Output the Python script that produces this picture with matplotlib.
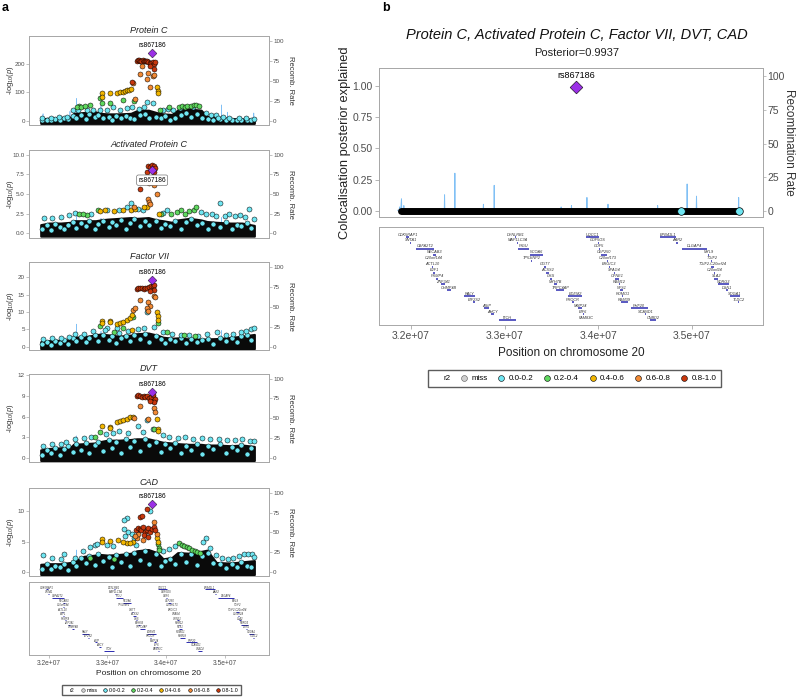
import numpy as np
import matplotlib.pyplot as plt
from matplotlib.lines import Line2D
from matplotlib.ticker import FuncFormatter

plt.rcParams['font.family'] = ['Liberation Sans', 'DejaVu Sans']
plt.rcParams['mathtext.fontset'] = 'custom'
plt.rcParams['mathtext.rm'] = 'Liberation Sans'
plt.rcParams['mathtext.it'] = 'Liberation Sans:italic'

# r2 classes: 0 miss, 1 0.0-0.2, 2 0.2-0.4, 3 0.4-0.6, 4 0.6-0.8, 5 0.8-1.0
R2_COLORS = ['#CFCFCF', '#6FE6F2', '#5FD85F', '#F2B600', '#F28A35', '#C8370D']
R2_LABELS = ['miss', '0.0-0.2', '0.2-0.4', '0.4-0.6', '0.6-0.8', '0.8-1.0']
LEAD_COLOR = '#9B30E6'
RECOMB_COLOR = '#80C0F5'
FRAME_GREY = '#A8A8A8'
TEXT_GREY = '#4D4D4D'

lead_snp = 'rs867186'
lead_pos = 33.764          # Mb
coloc_posterior = 0.9937

# recombination rate (cM/Mb), shared by every panel
recomb_pos = [31.86, 31.875, 31.88, 31.885, 31.893, 31.897, 31.90, 31.903, 31.92, 31.925,
              31.93, 31.95, 32.20, 32.357, 32.36, 32.363, 32.467, 32.47, 32.473, 32.772,
              32.775, 32.778, 32.887, 32.89, 32.893, 33.20, 33.602, 33.605, 33.608, 33.712,
              33.715, 33.718, 33.877, 33.88, 33.883, 34.102, 34.105, 34.108, 34.632, 34.635,
              34.638, 34.947, 34.95, 34.953, 35.047, 35.05, 35.053, 35.497, 35.50, 35.503,
              35.53]
recomb_rate = [0.5, 0.5, 3, 1, 1, 6, 9, 1, 1, 4,
               1, 0.5, 0.3, 0.5, 12, 0.5, 0.5, 28, 0.5, 0.3,
               5, 0.3, 0.5, 19, 0.5, 0.2, 0.5, 3, 0.5, 0.5,
               4, 0.5, 0.5, 10, 0.5, 0.5, 5, 0.5, 0.5, 4,
               0.5, 0.5, 20, 0.5, 0.5, 11, 0.5, 0.5, 10, 0.5,
               0.5]

# top of the densely overplotted low-signal SNP mass, per trait
band_pos = [31.86, 32.0, 32.2, 32.37, 32.42, 32.6, 32.8, 32.88, 33.0, 33.2, 33.4, 33.5,
            33.7, 33.85, 33.95, 34.1, 34.2, 34.4, 34.6, 34.7, 34.86, 35.1, 35.3, 35.51]
pc_band = [7, 10, 12, 13, 26, 30, 32, 27, 25, 25, 27, 36, 38, 29, 25, 23, 38, 42, 38, 16, 13, 9, 7, 5]
apc_band = [1.1, 1.3, 1.3, 1.4, 1.6, 1.6, 1.6, 1.7, 1.8, 1.9, 2.0, 1.9, 2.0, 1.7, 1.6, 1.4, 1.7, 1.9, 1.7, 1.5, 1.4, 1.3, 1.3, 1.0]
f7_band = [1.4, 1.7, 1.8, 2.0, 2.7, 2.8, 3.4, 3.6, 3.4, 3.0, 3.3, 3.7, 3.9, 3.3, 2.7, 2.4, 2.5, 2.2, 2.1, 2.2, 2.3, 2.6, 3.0, 3.5]
dvt_band = [1.2, 1.4, 1.5, 1.6, 2.0, 2.1, 2.2, 2.4, 2.6, 2.6, 2.7, 2.8, 2.8, 2.5, 2.3, 2.2, 2.1, 2.0, 2.0, 1.9, 1.9, 1.8, 1.9, 1.7]
cad_band = [1.3, 1.4, 1.4, 1.6, 1.7, 2.6, 2.8, 2.9, 2.8, 2.9, 3.1, 3.5, 3.7, 3.2, 2.2, 2.4, 3.2, 3.1, 3.4, 3.6, 1.6, 1.5, 1.7, 1.9]

# SNPs buried inside that mass (shared positions, per-trait -log10 p)
low_pos = [31.88, 31.96, 32.04, 32.11, 32.19, 32.26, 32.33, 32.41, 32.47, 32.55, 32.63,
           32.69, 32.78, 32.84, 32.93, 33.02, 33.08, 33.14, 33.24, 33.31, 33.38, 33.46,
           33.55, 33.64, 33.71, 33.83, 33.91, 33.99, 34.07, 34.16, 34.26, 34.34, 34.43,
           34.53, 34.61, 34.72, 34.81, 34.93, 35.03, 35.12, 35.21, 35.29, 35.38, 35.45]
pc_low = [3, 5, 2, 7, 4, 9, 6, 18, 12, 22, 8, 25, 15, 20, 10, 14, 5, 18, 9, 16, 12, 6,
          20, 26, 11, 14, 9, 17, 5, 12, 20, 28, 15, 25, 10, 8, 4, 6, 3, 5, 2, 4, 3, 2]
apc_low = [0.6, 1.0, 0.4, 1.2, 0.8, 0.5, 1.1, 1.4, 0.7, 1.3, 0.9, 1.5, 0.6, 1.2, 1.6, 0.8,
           1.4, 1.0, 1.7, 0.5, 1.3, 1.8, 0.9, 1.5, 1.1, 1.6, 0.7, 1.2, 0.9, 1.5, 0.6, 1.4,
           1.8, 1.0, 1.3, 0.6, 1.2, 0.8, 1.4, 0.5, 1.1, 0.9, 1.3, 0.7]
f7_low = [0.8, 1.4, 0.5, 1.6, 1.0, 1.8, 0.7, 2.4, 1.5, 2.8, 1.2, 2.5, 3.2, 1.6, 3.4, 2.0,
          2.9, 1.1, 2.6, 3.0, 1.7, 3.3, 2.2, 3.6, 1.4, 3.0, 2.3, 1.0, 2.2, 1.5, 2.4, 0.9,
          2.1, 1.3, 1.9, 2.3, 0.8, 2.4, 1.5, 2.6, 1.2, 2.9, 3.3, 2.0]
dvt_low = [0.5, 1.2, 0.8, 1.5, 0.4, 1.3, 1.7, 0.9, 2.0, 1.2, 2.2, 0.7, 1.9, 2.4, 1.1, 2.6,
           1.5, 2.3, 0.8, 2.7, 1.6, 2.5, 1.0, 2.8, 1.9, 2.4, 0.9, 2.1, 1.4, 2.2, 0.7, 1.8,
           1.2, 2.0, 0.6, 1.7, 1.3, 2.0, 0.8, 1.6, 1.2, 1.9, 0.6, 1.5]
cad_low = [0.6, 1.3, 0.5, 1.1, 0.9, 1.4, 0.4, 1.6, 1.0, 2.4, 1.5, 2.7, 1.2, 2.9, 1.8, 2.5,
           0.9, 2.8, 1.6, 3.0, 1.1, 3.2, 2.0, 3.4, 1.4, 2.9, 1.0, 1.8, 2.2, 1.3, 2.9, 1.7,
           3.0, 1.2, 2.6, 3.1, 1.5, 1.3, 0.7, 1.4, 0.9, 1.6, 1.1, 0.8]

# Protein C
pc_pos = [33.50, 33.52, 33.54, 33.56, 33.58, 33.60, 33.62, 33.64, 33.66, 33.68, 33.70, 33.72, 33.74,
          33.78, 33.80, 33.81, 33.79, 33.73, 33.42,
          33.585, 33.556, 33.70, 33.68, 33.78, 33.80, 33.72, 33.44, 33.47,
          32.90, 32.91, 33.04, 33.16, 33.22, 33.26, 33.30, 33.33, 33.36, 33.40, 33.84, 33.87, 33.86,
          32.87, 32.91, 33.05, 33.27, 33.46, 33.90, 32.51, 32.48, 32.55, 32.71, 32.62, 34.05,
          34.22, 34.28, 34.32, 34.36, 34.42, 34.48, 34.52, 34.56,
          33.67, 33.77, 32.42, 32.50, 32.65, 32.76, 32.88, 32.99, 33.10, 33.22, 33.33, 33.42, 33.54,
          33.63, 33.95, 34.04, 34.12, 34.24, 34.46, 34.69, 34.77, 34.86, 34.89, 34.97, 35.08, 35.25,
          35.37, 35.51, 31.89, 32.03, 32.17, 32.31]
pc_logp = [212, 214, 213, 211, 212, 213, 211, 210, 212, 209, 207, 205, 203,
           206, 201, 208, 182, 194, 136,
           193, 166, 167, 146, 158, 162, 120, 134, 76,
           97, 85, 97, 99, 100, 102, 104, 107, 110, 112, 120, 106, 98,
           82, 62, 62, 74, 70, 39, 53, 48, 50, 56, 52, 48,
           49, 51, 50, 52, 53, 55, 56, 54,
           68, 64, 40, 38, 40, 38, 38, 40, 48, 39, 44, 48, 41,
           48, 39, 41, 39, 44, 48, 27, 21, 21, 10, 13, 12, 10,
           10, 7, 9, 10, 13, 13]
pc_r2 = [5, 5, 5, 5, 5, 5, 5, 5, 5, 5, 5, 5, 5,
         5, 5, 5, 5, 5, 5,
         4, 4, 4, 4, 4, 4, 4, 4, 4,
         3, 3, 3, 3, 3, 3, 3, 3, 3, 3, 3, 3, 3,
         2, 2, 2, 2, 2, 2, 2, 2, 2, 2, 2, 2,
         2, 2, 2, 2, 2, 2, 2, 2,
         1, 1, 1, 1, 1, 1, 1, 1, 1, 1, 1, 1, 1,
         1, 1, 1, 1, 1, 1, 1, 1, 1, 1, 1, 1, 1,
         1, 1, 1, 1, 1, 1]
pc_lead = 237

# Activated Protein C
apc_pos = [33.70, 33.73, 33.76, 33.79, 33.81, 33.67, 33.80, 33.56,
           33.71, 33.79, 33.84, 33.70, 33.71, 33.72, 33.46,
           33.67, 33.62, 33.41, 33.47, 33.27, 33.12, 32.96, 32.88, 33.88,
           32.51, 32.65, 32.84, 32.58, 34.09, 34.18, 34.26, 34.33, 34.40, 34.48, 34.52, 33.92,
           33.41, 34.92, 35.42, 31.92, 32.05, 32.20, 32.35, 32.45, 32.72, 33.00, 33.20, 33.33,
           33.52, 33.60, 33.95, 34.02, 34.60, 34.68, 34.78, 34.85, 35.00, 35.08, 35.18, 35.26,
           35.35, 35.50]
apc_logp = [8.6, 8.4, 8.7, 8.5, 8.3, 7.8, 7.8, 5.6,
            6.4, 6.1, 5.0, 4.3, 4.0, 3.7, 3.4,
            3.4, 3.3, 3.0, 3.1, 2.9, 2.8, 3.0, 2.8, 2.5,
            2.5, 2.3, 2.9, 2.4, 2.5, 2.7, 2.9, 2.5, 2.8, 3.0, 3.3, 2.4,
            3.8, 3.9, 3.1, 2.0, 1.9, 2.1, 2.3, 2.6, 2.5, 3.0, 2.9, 3.3,
            3.1, 2.9, 2.6, 2.9, 2.7, 2.4, 2.5, 2.2, 2.2, 2.4, 2.2, 2.3,
            2.1, 1.8]
apc_r2 = [5, 5, 5, 5, 5, 5, 5, 5,
          4, 4, 4, 4, 4, 4, 4,
          3, 3, 3, 3, 3, 3, 3, 3, 3,
          2, 2, 2, 2, 2, 2, 2, 2, 2, 2, 2, 2,
          1, 1, 1, 1, 1, 1, 1, 1, 1, 1, 1, 1,
          1, 1, 1, 1, 1, 1, 1, 1, 1, 1, 1, 1,
          1, 1]
apc_lead = 8.0

# Factor VII
f7_pos = [33.50, 33.53, 33.56, 33.59, 33.62, 33.65, 33.68, 33.71, 33.74, 33.77, 33.80, 33.79, 33.73,
          33.56, 33.70, 33.72, 33.79, 33.81, 33.67, 33.70, 33.44, 33.47,
          33.84, 33.87, 33.86, 33.16, 33.22, 33.27, 33.33, 33.39, 33.42, 32.91, 32.90, 33.05, 33.04, 33.42,
          33.44, 33.27, 33.11, 33.87, 34.01, 32.87, 34.30, 34.50,
          33.68, 33.17, 33.00, 33.20, 31.90, 32.05, 32.20, 32.35, 32.45, 32.60, 32.75, 32.95, 33.35,
          33.52, 33.62, 33.80, 33.95, 34.10, 34.25, 34.40, 34.55, 34.70, 34.88, 35.02, 35.15, 35.28,
          35.36, 35.45, 35.50]
f7_logp = [16.6, 16.9, 17.0, 16.8, 16.5, 16.8, 17.0, 17.2, 17.5, 17.4, 17.8, 16.3, 16.0,
           13.3, 12.8, 11.6, 14.5, 14.2, 11.1, 10.3, 10.6, 11.0,
           9.9, 8.7, 7.7, 6.6, 6.8, 7.2, 7.7, 8.3, 9.2, 7.5, 6.8, 7.5, 7.0, 4.8,
           8.5, 5.3, 4.1, 6.8, 4.3, 5.8, 3.2, 3.0,
           9.9, 5.3, 5.3, 3.9, 2.2, 2.5, 2.6, 2.8, 3.5, 3.6, 4.5, 4.7, 4.5,
           5.2, 5.4, 5.5, 4.2, 3.5, 3.3, 3.4, 3.1, 3.5, 4.1, 3.3, 3.6, 4.2,
           4.6, 5.0, 5.4]
f7_r2 = [5, 5, 5, 5, 5, 5, 5, 5, 5, 5, 5, 5, 5,
         4, 4, 4, 4, 4, 4, 4, 4, 4,
         3, 3, 3, 3, 3, 3, 3, 3, 3, 3, 3, 3, 3, 3,
         2, 2, 2, 2, 2, 2, 2, 2,
         1, 1, 1, 1, 1, 1, 1, 1, 1, 1, 1, 1, 1,
         1, 1, 1, 1, 1, 1, 1, 1, 1, 1, 1, 1, 1,
         1, 1, 1]
f7_lead = 19.1

# DVT
dvt_pos = [33.50, 33.53, 33.56, 33.59, 33.62, 33.65, 33.68, 33.71, 33.74, 33.78, 33.81, 33.80, 33.73,
           33.78, 33.79,
           33.56, 33.80, 33.81, 33.70, 33.45,
           33.84, 33.87, 33.86, 33.16, 33.22, 33.27, 33.33, 33.39, 33.43, 32.91, 33.05, 33.04,
           32.87, 32.79, 33.80,
           33.52, 33.67, 33.77, 33.20, 31.90, 32.05, 32.20, 32.30, 32.45, 32.60, 32.72, 32.98, 33.10,
           33.35, 33.60, 33.95, 34.05, 34.20, 34.33, 34.47, 34.62, 34.76, 34.90, 35.05, 35.18, 35.30,
           35.43, 35.50]
dvt_logp = [9.0, 9.1, 9.0, 8.9, 9.0, 8.8, 9.0, 8.7, 8.9, 9.1, 8.5, 8.1, 8.3,
            8.8, 8.2,
            7.5, 7.3, 6.6, 5.6, 5.8,
            5.6, 4.2, 3.9, 5.2, 5.3, 5.5, 5.7, 6.0, 5.9, 4.6, 4.5, 4.4,
            3.8, 3.1, 4.2,
            4.7, 5.5, 4.2, 3.9, 1.8, 2.0, 2.1, 2.4, 2.8, 2.9, 3.0, 3.5, 3.6,
            3.6, 3.8, 3.3, 3.1, 2.9, 3.1, 2.8, 2.9, 2.8, 2.8, 2.6, 2.6, 2.8,
            2.5, 2.5]
dvt_r2 = [5, 5, 5, 5, 5, 5, 5, 5, 5, 5, 5, 5, 5,
          2, 2,
          4, 4, 4, 4, 4,
          3, 3, 3, 3, 3, 3, 3, 3, 3, 3, 3, 3,
          2, 2, 2,
          1, 1, 1, 1, 1, 1, 1, 1, 1, 1, 1, 1, 1,
          1, 1, 1, 1, 1, 1, 1, 1, 1, 1, 1, 1, 1,
          1, 1]
dvt_lead = 9.5

# CAD
cad_pos = [33.67, 33.56, 33.59, 33.48, 33.52, 33.55, 33.58, 33.61, 33.64, 33.67, 33.70, 33.73, 33.76,
           33.79, 33.82, 33.62, 33.70,
           33.79, 33.50, 33.53, 33.84, 33.47, 33.60,
           32.90, 32.91, 33.05, 33.18, 33.33, 33.43, 33.84, 33.87, 33.39, 33.27,
           33.72, 33.33, 33.29, 33.28, 33.35, 33.42, 33.45, 33.30, 33.48, 32.71, 32.79, 32.82, 34.69,
           34.64, 31.90, 32.05, 32.20, 32.25, 32.45, 32.58, 32.99, 33.10, 33.95, 34.05, 34.15, 34.75,
           34.85, 34.95, 35.06, 35.15, 35.25, 35.33, 35.40, 35.47, 35.51,
           33.87, 33.875, 33.88, 34.22, 34.27, 34.31, 34.36, 34.40, 34.44, 34.49, 34.53, 34.58,
           32.71, 33.11]
cad_logp = [10.3, 9.0, 9.1, 6.9, 7.2, 7.0, 6.8, 7.3, 6.6, 6.9, 7.2, 6.5, 7.0,
            7.4, 6.8, 6.0, 5.8,
            8.1, 5.5, 6.2, 6.2, 5.9, 5.3,
            5.4, 4.9, 5.1, 5.2, 4.7, 5.0, 5.5, 5.0, 4.8, 4.9,
            9.9, 8.8, 8.5, 7.0, 6.6, 6.3, 5.6, 5.9, 4.5, 4.1, 4.4, 4.6, 5.5,
            4.9, 2.8, 2.3, 2.2, 2.9, 2.4, 3.4, 4.5, 4.3, 3.4, 3.8, 4.3, 4.0,
            2.8, 2.3, 2.2, 2.3, 2.7, 3.0, 2.9, 3.0, 2.5,
            4.6, 4.0, 3.6, 4.7, 4.5, 4.3, 4.1, 4.0, 3.7, 3.5, 3.3, 3.1,
            2.4, 2.1]
cad_r2 = [5, 5, 5, 5, 5, 5, 5, 5, 5, 5, 5, 5, 5,
          5, 5, 5, 5,
          4, 4, 4, 4, 4, 4,
          3, 3, 3, 3, 3, 3, 3, 3, 3, 3,
          1, 1, 1, 1, 1, 1, 1, 1, 1, 1, 1, 1, 1,
          1, 1, 1, 1, 1, 1, 1, 1, 1, 1, 1, 1, 1,
          1, 1, 1, 1, 1, 1, 1, 1, 1,
          2, 2, 2, 2, 2, 2, 2, 2, 2, 2, 2, 2,
          2, 2]
cad_lead = 11.1

# colocalisation: SNPs whose markers still show at the end of the overplotted row
coloc_row_span = (31.89, 35.50)
coloc_visible_pos = [34.88, 35.50]

# genes: name, start, end (Mb), track row
gene_names = ['CDK5RAP1', 'SNTA1', 'CBFA2T2', 'NECAB3', 'C20orf144', 'ACTL10', 'E2F1', 'PXMP4',
              'ZNF341', 'CHMP4B', 'RALY', 'EIF2S2', 'ASIP', 'AHCY', 'ITCH',
              'DYNLRB1', 'MAP1LC3A', 'PIGU', 'NCOA6', 'TP53INP2', 'GGT7', 'ACSS2', 'GSS',
              'MYH7B', 'TRPC4AP', 'EDEM2', 'PROCR', 'MMP24', 'EIF6', 'FAM83C',
              'UQCC1', 'GDF5OS', 'GDF5', 'CEP250', 'C20orf173', 'ERGIC3', 'SPAG4', 'CPNE1',
              'RBM12', 'NFS1', 'ROMO1', 'RBM39', 'PHF20', 'SCAND1', 'CNBD2',
              'EPB41L1', 'AAR2', 'DLGAP4', 'MYL9', 'TGIF2', 'TGIF2-C20orf24', 'C20orf24',
              'SLA2', 'NDRG3', 'DSN1', 'SOGA1', 'TLDC2']
gene_start = [31.95, 31.99, 32.05, 32.24, 32.245, 32.225, 32.24, 32.27,
              32.32, 32.39, 32.57, 32.66, 32.78, 32.86, 32.94,
              33.11, 33.135, 33.14, 33.27, 33.28, 33.425, 33.44, 33.49,
              33.53, 33.55, 33.68, 33.725, 33.79, 33.835, 33.865,
              33.87, 33.995, 34.005, 34.03, 34.095, 34.115, 34.165, 34.18,
              34.225, 34.23, 34.255, 34.24, 34.35, 34.505, 34.55,
              34.66, 34.83, 34.89, 35.175, 35.21, 35.20, 35.235,
              35.24, 35.28, 35.37, 35.41, 35.495]
gene_end = [31.98, 32.005, 32.25, 32.27, 32.25, 32.235, 32.26, 32.29,
            32.36, 32.43, 32.68, 32.69, 32.83, 32.89, 33.12,
            33.125, 33.145, 33.26, 33.41, 33.29, 33.44, 33.48, 33.51,
            33.56, 33.64, 33.83, 33.74, 33.83, 33.845, 33.875,
            34.01, 34.005, 34.015, 34.09, 34.105, 34.125, 34.175, 34.22,
            34.235, 34.27, 34.265, 34.32, 34.53, 34.515, 34.62,
            34.83, 34.85, 35.16, 35.185, 35.22, 35.24, 35.245,
            35.28, 35.40, 35.39, 35.51, 35.505]
gene_row = [1, 2, 3, 4, 5, 6, 7, 8, 9, 10, 11, 12, 13, 14, 15,
            1, 2, 3, 4, 5, 6, 7, 8, 9, 10, 11, 12, 13, 14, 15,
            1, 2, 3, 4, 5, 6, 7, 8, 9, 10, 11, 12, 13, 14, 15,
            1, 2, 3, 4, 5, 6, 7, 8, 9, 10, 11, 12]

XLIM = (31.66e6, 35.76e6)
XTICKS = [32e6, 33e6, 34e6, 35e6]
sci_fmt = FuncFormatter(lambda v, _: f'{v:.1e}')


def style_frame(ax):
    for sp in ax.spines.values():
        sp.set_color(FRAME_GREY)
        sp.set_linewidth(0.7)


def recomb_limits(lo, hi, top_frac):
    # right axis shares the zero line with the left axis, 100 sits near the top
    f0 = -lo / (hi - lo)
    span = 100.0 / (top_frac - f0)
    return -f0 * span, (1 - f0) * span


def draw_recomb(ax, ylim, top_frac, fs, lw, label, labelx):
    ax2 = ax.twinx()
    ax2.plot(np.array(recomb_pos) * 1e6, recomb_rate, color=RECOMB_COLOR, lw=lw)
    ax2.set_ylim(*recomb_limits(ylim[0], ylim[1], top_frac))
    ax2.set_yticks([0, 25, 50, 75, 100])
    ax2.tick_params(axis='y', labelsize=fs, colors=TEXT_GREY, length=2, width=0.5,
                    pad=1, color=FRAME_GREY)
    ax2.set_ylabel(label, fontsize=fs + 1, color='#333333', rotation=270, va='center')
    ax2.yaxis.set_label_coords(labelx, 0.5)
    style_frame(ax2)
    ax.set_zorder(ax2.get_zorder() + 1)
    ax.patch.set_visible(False)
    return ax2


def draw_trait(rect, title, pos, logp, r2, band, low, lead_val, ylim, yticks, ylabels,
               boxed=False):
    ax = fig.add_axes(rect)
    ax.set_xlim(*XLIM)
    ax.set_ylim(*ylim)
    draw_recomb(ax, ylim, 0.948, 4.5, 0.5, 'Recomb. Rate', 1.09)
    base = ylim[0] * 0.6
    ax.fill_between(np.array(band_pos) * 1e6, base, band, color='#0A0A0A', lw=1.5,
                    edgecolor='#0A0A0A', zorder=1)
    ax.scatter(np.array(low_pos) * 1e6, low, s=13, c=R2_COLORS[1], edgecolors='black',
               linewidths=0.35, zorder=2)
    pos = np.array(pos) * 1e6
    logp = np.array(logp)
    r2 = np.array(r2)
    for k in range(1, 6):
        m = r2 == k
        ax.scatter(pos[m], logp[m], s=13, c=R2_COLORS[k], edgecolors='black',
                   linewidths=0.35, zorder=2 + k)
    ax.scatter([lead_pos * 1e6], [lead_val], s=20, marker='D', c=LEAD_COLOR,
               edgecolors='black', linewidths=0.3, zorder=10)
    if boxed:
        ax.annotate(lead_snp, (lead_pos * 1e6, lead_val), xytext=(0, -7),
                    textcoords='offset points', ha='center', va='center', fontsize=4.8,
                    zorder=11, bbox=dict(boxstyle='round,pad=0.25', fc='white',
                                         ec='#555555', lw=0.4))
    else:
        ax.annotate(lead_snp, (lead_pos * 1e6, lead_val), xytext=(0, 5.5),
                    textcoords='offset points', ha='center', va='center', fontsize=4.8,
                    zorder=11)
    ax.set_yticks(yticks)
    ax.set_yticklabels(ylabels)
    ax.tick_params(axis='y', labelsize=4.5, colors=TEXT_GREY, length=2, width=0.5,
                   pad=1, color=FRAME_GREY)
    ax.set_xticks([])
    ax.set_ylabel(r'-log$_{10}$($p$)', fontsize=5.5, color='#333333', va='center')
    ax.yaxis.set_label_coords(-0.079, 0.5)
    ax.set_title(title, fontsize=6.5, style='italic', color='#222222', pad=2.5)
    style_frame(ax)
    return ax


def draw_genes(ax, fs, lw):
    for name, s, e, r in zip(gene_names, gene_start, gene_end, gene_row):
        ax.plot([s * 1e6, e * 1e6], [-r, -r], color='#2B2BB0', lw=lw, solid_capstyle='butt')
        ax.text((s + e) / 2 * 1e6, -r + 0.42, name, fontsize=fs, style='italic',
                color='#333333', ha='center', va='center')
    ax.set_xlim(*XLIM)
    ax.set_ylim(-15.84, 0.69)
    ax.set_yticks([])
    ax.set_xticks(XTICKS)
    ax.xaxis.set_major_formatter(sci_fmt)
    style_frame(ax)


def legend_handles(ms):
    hs = [Line2D([], [], ls='none', label='r2')]
    for k in range(6):
        hs.append(Line2D([], [], ls='none', marker='o', ms=ms, mfc=R2_COLORS[k],
                         mec='#555555' if k == 0 else 'black', mew=0.4, label=R2_LABELS[k]))
    return hs


W, H = 799, 699
fig = plt.figure(figsize=(W / 100, H / 100), dpi=100)


def rect(x0, y0, x1, y1):
    return [x0 / W, 1 - y1 / H, (x1 - x0) / W, (y1 - y0) / H]


# ---- panel a ----
fig.text(2 / W, 1 - 8 / H, 'a', fontsize=9, fontweight='bold', va='center')
draw_trait(rect(29, 36, 269, 125), 'Protein C', pc_pos, pc_logp, pc_r2, pc_band, pc_low,
           pc_lead, (-14, 298), [0, 100, 200], ['0', '100', '200'])
draw_trait(rect(29, 150, 269, 238), 'Activated Protein C', apc_pos, apc_logp, apc_r2, apc_band,
           apc_low, apc_lead, (-0.6, 10.6), [0, 2.5, 5, 7.5, 10],
           ['0.0', '2.5', '5.0', '7.5', '10.0'], boxed=True)
draw_trait(rect(29, 262, 269, 350), 'Factor VII', f7_pos, f7_logp, f7_r2, f7_band, f7_low,
           f7_lead, (-1.0, 24.4), [0, 5, 10, 15, 20], ['0', '5', '10', '15', '20'])
draw_trait(rect(29, 374, 269, 462), 'DVT', dvt_pos, dvt_logp, dvt_r2, dvt_band, dvt_low,
           dvt_lead, (-0.55, 12.15), [0, 3, 6, 9, 12], ['0', '3', '6', '9', '12'])
draw_trait(rect(29, 488, 269, 576), 'CAD', cad_pos, cad_logp, cad_r2, cad_band, cad_low,
           cad_lead, (-0.6, 13.7), [0, 5, 10], ['0', '5', '10'])

gax = fig.add_axes(rect(29, 582, 269, 655))
draw_genes(gax, 1.9, 0.7)
gax.tick_params(axis='x', labelsize=4.8, colors=TEXT_GREY, length=2, width=0.5, pad=1.5,
                color=FRAME_GREY)
gax.set_xlabel('Position on chromosome 20', fontsize=6, color='#222222', labelpad=2)

fig.legend(handles=legend_handles(2.6), loc='center', bbox_to_anchor=(151.5 / W, 1 - 690 / H),
           ncol=7, fontsize=3.8, frameon=True, fancybox=False, edgecolor='#333333',
           handlelength=0.6, handletextpad=0.4, columnspacing=1.2, borderpad=0.5)

# ---- panel b ----
fig.text(382 / W, 1 - 8 / H, 'b', fontsize=9, fontweight='bold', va='center')
bax = fig.add_axes(rect(379, 68, 763, 217))
b_ylim = (-0.048, 1.142)
bax.set_xlim(*XLIM)
bax.set_ylim(*b_ylim)
draw_recomb(bax, b_ylim, 0.946, 7.5, 0.7, 'Recombination Rate', 1.068)
# every SNP except the lead has posterior ~0: they overplot into one black row
bax.plot([coloc_row_span[0] * 1e6, coloc_row_span[1] * 1e6], [0, 0], color='black', lw=5,
         solid_capstyle='round', zorder=3)
bax.scatter(np.array(coloc_visible_pos) * 1e6, [0] * len(coloc_visible_pos), s=30,
            c=R2_COLORS[1], edgecolors='black', linewidths=0.5, zorder=4)
bax.scatter([lead_pos * 1e6], [coloc_posterior], s=42, marker='D', c=LEAD_COLOR,
            edgecolors='black', linewidths=0.4, zorder=10)
bax.annotate(lead_snp, (lead_pos * 1e6, coloc_posterior), xytext=(0, 8),
             textcoords='offset points', ha='center', va='center', fontsize=6.5)
bax.set_yticks([0, 0.25, 0.5, 0.75, 1.0])
bax.set_yticklabels(['0.00', '0.25', '0.50', '0.75', '1.00'])
bax.tick_params(axis='y', labelsize=7.5, colors=TEXT_GREY, length=3, width=0.6, pad=1.5,
                color=FRAME_GREY)
bax.set_xticks([])
bax.set_ylabel('Colocalisation posterior explained', fontsize=9.3, color='#222222',
               va='center')
bax.yaxis.set_label_coords(-0.089, 0.5)
style_frame(bax)
fig.text(577 / W, 1 - 35 / H, 'Protein C, Activated Protein C, Factor VII, DVT, CAD',
         fontsize=10.5, style='italic', ha='center', va='center', color='#111111')
fig.text(577 / W, 1 - 53 / H, f'Posterior={coloc_posterior}', fontsize=8, ha='center',
         va='center', color='#222222')

gbx = fig.add_axes(rect(379, 227, 763, 325))
draw_genes(gbx, 2.8, 1.1)
gbx.tick_params(axis='x', labelsize=7.5, colors=TEXT_GREY, length=3, width=0.6, pad=1.5,
                color=FRAME_GREY)
gbx.set_xlabel('Position on chromosome 20', fontsize=8.5, color='#222222', labelpad=4)

fig.legend(handles=legend_handles(4.2), loc='center', bbox_to_anchor=(574.5 / W, 1 - 378.5 / H),
           ncol=7, fontsize=5.8, frameon=True, fancybox=False, edgecolor='#333333',
           handlelength=0.8, handletextpad=0.5, columnspacing=1.3, borderpad=0.6)

fig.savefig('out.png', dpi=100)
